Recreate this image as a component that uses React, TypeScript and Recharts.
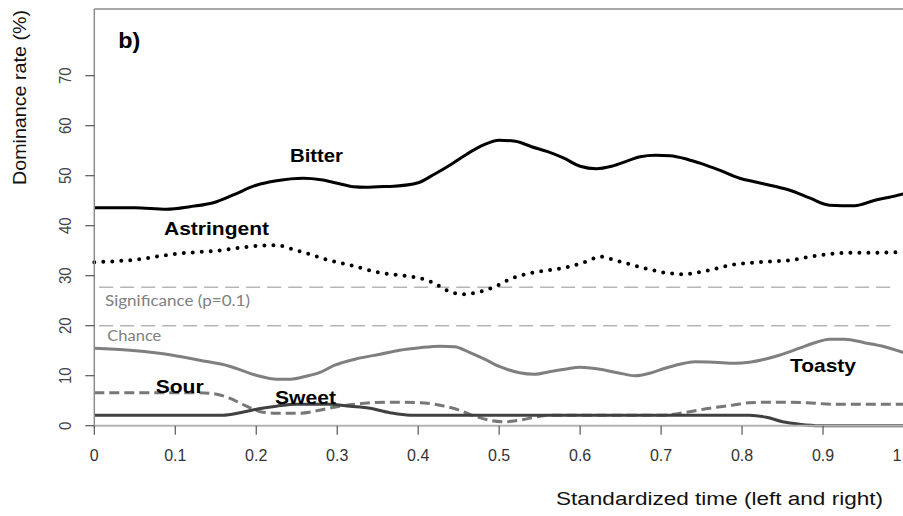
import React from 'react';
import { LineChart, Line, XAxis, YAxis, ReferenceLine, ReferenceDot } from 'recharts';

// ---- data (standardized time, dominance rate %) ----
const bitterTime = [0, 0.05, 0.089, 0.118, 0.151, 0.171, 0.2, 0.225, 0.258, 0.28, 0.3, 0.32, 0.335, 0.35, 0.37, 0.4, 0.42, 0.44, 0.46, 0.48, 0.5, 0.52, 0.54, 0.56, 0.58, 0.6, 0.62, 0.639, 0.661, 0.674, 0.693, 0.711, 0.732, 0.748, 0.772, 0.797, 0.815, 0.84, 0.859, 0.884, 0.908, 0.939, 0.964, 0.982, 1.0];
const bitterRate = [43.6, 43.6, 43.3, 43.8, 44.8, 46.1, 48.1, 49.0, 49.5, 49.2, 48.5, 47.8, 47.7, 47.8, 47.9, 48.6, 50.3, 52.2, 54.3, 56.1, 57.1, 56.9, 55.8, 54.8, 53.5, 51.9, 51.4, 51.9, 53.1, 53.8, 54.1, 54.0, 53.3, 52.5, 51.1, 49.5, 48.8, 47.9, 47.1, 45.5, 44.1, 44.0, 45.1, 45.7, 46.4];

const astringentTime = [0, 0.056, 0.097, 0.151, 0.205, 0.225, 0.245, 0.262, 0.29, 0.316, 0.353, 0.377, 0.402, 0.42, 0.435, 0.455, 0.476, 0.495, 0.513, 0.538, 0.562, 0.587, 0.612, 0.624, 0.643, 0.661, 0.68, 0.705, 0.729, 0.754, 0.785, 0.822, 0.859, 0.896, 0.933, 0.97, 1.0];
const astringentRate = [32.7, 33.3, 34.3, 35.0, 36.0, 36.1, 35.3, 34.5, 33.1, 32.1, 30.6, 30.1, 29.5, 28.5, 27.1, 26.3, 26.8, 27.8, 29.3, 30.5, 31.1, 31.8, 33.1, 33.8, 33.1, 32.3, 31.5, 30.6, 30.3, 30.9, 32.1, 32.7, 33.1, 34.1, 34.6, 34.6, 34.8];

const toastyTime = [0, 0.044, 0.097, 0.13, 0.167, 0.2, 0.225, 0.242, 0.262, 0.278, 0.297, 0.322, 0.353, 0.377, 0.402, 0.427, 0.445, 0.464, 0.482, 0.501, 0.525, 0.544, 0.562, 0.581, 0.6, 0.624, 0.649, 0.668, 0.686, 0.705, 0.723, 0.742, 0.766, 0.791, 0.809, 0.828, 0.846, 0.871, 0.89, 0.908, 0.927, 0.951, 0.976, 1.0];
const toastyRate = [15.5, 15.1, 14.1, 13.1, 11.9, 10.1, 9.3, 9.3, 9.9, 10.6, 12.1, 13.3, 14.3, 15.1, 15.6, 15.9, 15.8, 14.6, 13.3, 11.8, 10.6, 10.3, 10.8, 11.3, 11.7, 11.3, 10.5, 10.0, 10.5, 11.5, 12.3, 12.8, 12.7, 12.5, 12.7, 13.3, 14.1, 15.5, 16.6, 17.3, 17.3, 16.6, 15.8, 14.6];

const sourTime = [0, 0.13, 0.151, 0.167, 0.188, 0.205, 0.225, 0.254, 0.278, 0.303, 0.334, 0.365, 0.402, 0.427, 0.451, 0.47, 0.488, 0.507, 0.525, 0.544, 0.562, 0.6, 0.7, 0.735, 0.76, 0.788, 0.809, 0.838, 0.88, 0.912, 1.0];
const sourRate = [6.6, 6.6, 6.3, 5.5, 3.9, 2.8, 2.5, 2.5, 3.1, 3.9, 4.5, 4.7, 4.6, 4.1, 3.1, 1.9, 1.1, 0.8, 1.1, 1.7, 2.1, 2.1, 2.1, 2.8, 3.5, 4.1, 4.6, 4.7, 4.6, 4.3, 4.3];

const sweetTime = [0, 0.159, 0.18, 0.2, 0.225, 0.25, 0.29, 0.316, 0.34, 0.365, 0.39, 0.809, 0.83, 0.85, 0.871, 0.896, 1.0];
const sweetRate = [2.1, 2.1, 2.6, 3.3, 3.9, 4.3, 4.3, 3.9, 3.5, 2.6, 2.1, 2.1, 1.7, 0.8, 0.3, 0, 0];

const xTicks = [0, 0.1, 0.2, 0.3, 0.4, 0.5, 0.6, 0.7, 0.8, 0.9, 1];
const xTickLabels = ['0', '0.1', '0.2', '0.3', '0.4', '0.5', '0.6', '0.7', '0.8', '0.9', '1'];
const yTicks = [0, 10, 20, 30, 40, 50, 60, 70];
const yTickLabels = ['0', '10', '20', '30', '40', '50', '60', '70'];

const significanceLevel = 27.7;
const chanceLevel = 20;

const labelTexts = ['b)', 'Bitter', 'Astringent', 'Toasty', 'Sour', 'Sweet', 'Significance (p=0.1)', 'Chance'];
const labelTime = [0.0295, 0.2417, 0.0861, 0.8592, 0.0758, 0.2232, 0.0132, 0.0161];
const labelRate = [75.48, 52.8, 38.14, 10.68, 6.6, 4.28, 23.94, 16.94];

// ---- styles (not data) ----
const labelStyle = [
  { size: 22, width: 22, font: 'Liberation Sans, Arial, sans-serif', weight: 700, color: '#000' },
  { size: 19, width: 53, font: 'Liberation Sans, Arial, sans-serif', weight: 700, color: '#000' },
  { size: 18, width: 105, font: 'Liberation Sans, Arial, sans-serif', weight: 700, color: '#000' },
  { size: 19, width: 66, font: 'Liberation Sans, Arial, sans-serif', weight: 700, color: '#000' },
  { size: 19, width: 48, font: 'Liberation Sans, Arial, sans-serif', weight: 700, color: '#000' },
  { size: 19, width: 61, font: 'Liberation Sans, Arial, sans-serif', weight: 700, color: '#000' },
  { size: 15.5, width: 145, font: 'Lato, "Open Sans", sans-serif', weight: 400, color: '#808080' },
  { size: 15.5, width: 54, font: 'Lato, "Open Sans", sans-serif', weight: 400, color: '#808080' },
];

const toPoints = (t: number[], v: number[]) => t.map((x, i) => ({ x, y: v[i] }));
const bitterData = toPoints(bitterTime, bitterRate);
const astringentData = toPoints(astringentTime, astringentRate);
const toastyData = toPoints(toastyTime, toastyRate);
const sourData = toPoints(sourTime, sourRate);
const sweetData = toPoints(sweetTime, sweetRate);

const Y_MAX = 83.34;
const SANS = 'Liberation Sans, Arial, sans-serif';

const XTick = (props: any) => {
  const { x, y, payload } = props;
  const i = xTicks.indexOf(payload.value);
  const tx = Math.min(x, 897);
  return (
    <text x={tx} y={y + 26} textAnchor="middle" fontFamily={SANS} fontSize={16} fill="#333">
      {i >= 0 ? xTickLabels[i] : String(payload.value)}
    </text>
  );
};

const YTick = (props: any) => {
  const { x, y, payload } = props;
  const i = yTicks.indexOf(payload.value);
  const cx = x - 21;
  return (
    <g transform={`translate(${cx},${y}) scale(1.15,1) rotate(-90)`}>
      <text x={0} y={0} textAnchor="middle" dominantBaseline="central" fontFamily={SANS} fontSize={15} fill="#444">
        {i >= 0 ? yTickLabels[i] : String(payload.value)}
      </text>
    </g>
  );
};

export default function App() {
  return (
    <div style={{ position: 'fixed', left: 0, top: 0, width: 903, height: 516, overflow: 'hidden', background: '#fff' }}>
      <LineChart
        width={910}
        height={516}
        margin={{ top: 9, right: 6, bottom: 30.3, left: 34.3 }}
      >
        <XAxis
          type="number"
          dataKey="x"
          domain={[0, 1]}
          ticks={xTicks}
          interval={0}
          height={60}
          tickSize={9}
          tickMargin={0}
          tick={<XTick />}
          axisLine={{ stroke: '#b4b4b4', strokeWidth: 2 }}
          tickLine={{ stroke: '#555', strokeWidth: 1.2 }}
          allowDuplicatedCategory={false}
          label={{
            content: () => (
              <text x={883} y={505} textAnchor="end" fontFamily={SANS} fontSize={18} fill="#111" textLength={327} lengthAdjust="spacingAndGlyphs">
                Standardized time (left and right)
              </text>
            ),
          }}
        />
        <YAxis
          type="number"
          domain={[0, Y_MAX]}
          ticks={yTicks}
          interval={0}
          width={60}
          tickSize={9}
          tickMargin={0}
          tick={<YTick />}
          axisLine={{ stroke: '#8c8c8c', strokeWidth: 1.5 }}
          tickLine={{ stroke: '#555', strokeWidth: 1.2 }}
          label={{
            content: () => (
              <text
                x={0}
                y={0}
                transform="translate(20,97.5) rotate(-90)"
                textAnchor="middle"
                dominantBaseline="central"
                fontFamily={SANS}
                fontSize={18}
                fill="#111"
                textLength={175}
                lengthAdjust="spacingAndGlyphs"
              >
                Dominance rate (%)
              </text>
            ),
          }}
        />
        <ReferenceLine y={Y_MAX} stroke="#8c8c8c" strokeWidth={1.5} />
        <ReferenceLine
          segment={[{ x: 0.006, y: significanceLevel }, { x: 0.985, y: significanceLevel }]}
          stroke="#b5b5b5"
          strokeWidth={1.6}
          strokeDasharray="14 7"
        />
        <ReferenceLine
          segment={[{ x: 0.006, y: chanceLevel }, { x: 0.985, y: chanceLevel }]}
          stroke="#b5b5b5"
          strokeWidth={1.6}
          strokeDasharray="14 7"
        />
        <Line data={toastyData} dataKey="y" type="monotone" stroke="#7f7f7f" strokeWidth={3} dot={false} activeDot={false} isAnimationActive={false} />
        <Line data={sourData} dataKey="y" type="monotone" stroke="#777777" strokeWidth={3} strokeDasharray="10 5" dot={false} activeDot={false} isAnimationActive={false} />
        <Line data={sweetData} dataKey="y" type="monotone" stroke="#404040" strokeWidth={3} dot={false} activeDot={false} isAnimationActive={false} />
        <Line data={astringentData} dataKey="y" type="monotone" stroke="#000" strokeWidth={4} strokeDasharray="0 9" strokeLinecap="round" dot={false} activeDot={false} isAnimationActive={false} />
        <Line data={bitterData} dataKey="y" type="monotone" stroke="#000" strokeWidth={3} dot={false} activeDot={false} isAnimationActive={false} />
        {labelTexts.map((txt, i) => {
          const st = labelStyle[i];
          return (
            <ReferenceDot
              key={txt}
              x={labelTime[i]}
              y={labelRate[i]}
              r={1}
              fill="none"
              stroke="none"
              label={{
                content: (p: any) => {
                  const vb = p.viewBox || {};
                  const cx = (vb.x ?? 0) + (vb.width ?? 0) / 2;
                  const cy = (vb.y ?? 0) + (vb.height ?? 0) / 2;
                  return (
                    <text
                      x={cx}
                      y={cy}
                      textAnchor="start"
                      fontFamily={st.font}
                      fontWeight={st.weight}
                      fontSize={st.size}
                      fill={st.color}
                      textLength={st.width}
                      lengthAdjust="spacingAndGlyphs"
                    >
                      {txt}
                    </text>
                  );
                },
              }}
            />
          );
        })}
      </LineChart>
    </div>
  );
}
